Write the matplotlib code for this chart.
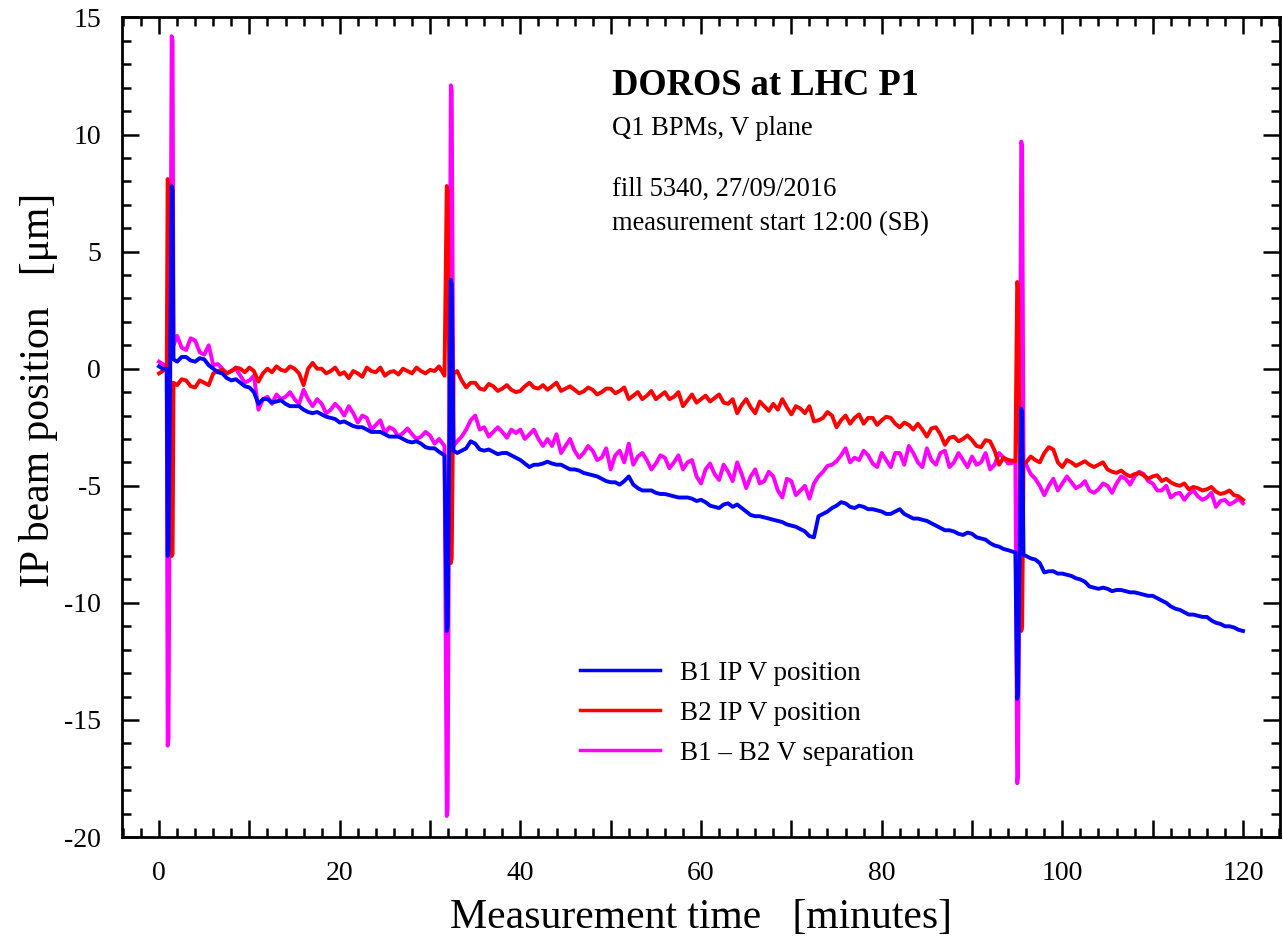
import matplotlib
matplotlib.use('Agg')
import matplotlib.pyplot as plt
from matplotlib.ticker import MultipleLocator, FuncFormatter

# 时间轴 [分钟]，尖峰附近取点更密
time_min = [
    0.0, 0.4, 0.85, 0.95, 1.05, 1.4, 1.5, 1.6,
    2, 3, 4, 5, 6, 7, 8, 9, 10, 11,
    12, 13, 14, 15, 16, 17, 18, 19, 20, 21,
    22, 23, 24, 25, 26, 27, 28, 29, 30, 31,
    31.6, 31.85, 31.95, 32.3, 32.4, 32.6,
    33, 34, 35, 36, 37, 38, 39, 40, 41, 42,
    43, 44, 45, 46, 47, 48, 49, 50, 51, 52,
    53, 54, 55, 56, 57, 58, 59, 60, 61, 62,
    63, 64, 65, 66, 67, 68, 69, 70, 71, 72,
    73, 74, 75, 76, 77, 78, 79, 80, 81, 82,
    83, 84, 85, 86, 87, 88, 89, 90, 91, 92,
    93, 94,
    94.8, 95.0, 95.1, 95.45, 95.55, 95.7,
    96, 97, 98, 99, 100, 101, 102, 103, 104, 105,
    106, 107, 108, 109, 110, 111, 112, 113, 114, 115,
    116, 117, 118, 119, 120,
]

b1_pos = [
    0.1, 0.0, 0.0, -8.0, -7.9, 7.8, 7.6, 0.4,
    0.3, 0.5, 0.3, 0.4, 0.0, -0.2, -0.5, -0.6, -0.8, -1.5,
    -1.3, -1.4, -1.5, -1.6, -1.75, -1.9, -1.95, -2.1, -2.3, -2.35,
    -2.5, -2.6, -2.7, -2.8, -2.9, -3.0, -3.15, -3.2, -3.4, -3.55,
    -3.7, -11.2, -11.0, 3.8, 3.6, -3.5,
    -3.6, -3.4, -3.2, -3.5, -3.55, -3.6, -3.7, -3.9, -4.2, -4.1,
    -3.97, -4.1, -4.2, -4.3, -4.45, -4.55, -4.7, -4.85, -4.95, -4.6,
    -5.1, -5.2, -5.3, -5.35, -5.45, -5.5, -5.55, -5.6, -5.85, -5.95,
    -5.75, -5.8, -6.1, -6.3, -6.35, -6.45, -6.55, -6.7, -6.85, -7.15,
    -6.3, -6.1, -5.85, -5.75, -5.95, -5.9, -6.0, -6.1, -6.2, -6.0,
    -6.3, -6.4, -6.5, -6.7, -6.9, -6.95, -7.1, -7.05, -7.25, -7.45,
    -7.6, -7.75,
    -7.85, -14.1, -13.9, -1.7, -1.9, -7.95,
    -8.0, -8.15, -8.7, -8.65, -8.75, -8.85, -9.0, -9.3, -9.4, -9.4,
    -9.45, -9.5, -9.55, -9.65, -9.7, -9.9, -10.15, -10.3, -10.5, -10.55,
    -10.6, -10.85, -11.0, -11.05, -11.2,
]

b2_pos = [
    -0.2, -0.1, 0.0, 8.1, 7.9, -8.0, -7.9, -0.6,
    -0.7, -0.5, -0.8, -0.6, -0.2, -0.05, -0.1, 0.0, 0.05, -0.55,
    0.0, 0.1, -0.1, 0.0, -0.7, 0.25, 0.0, -0.1, -0.25, -0.4,
    -0.2, 0.05, -0.15, -0.3, -0.1, 0.0, -0.2, -0.1, -0.05, 0.1,
    -0.3, 7.8, 7.6, -8.3, -8.1, -0.2,
    -0.1, -0.8, -0.6, -0.9, -0.75, -0.85, -0.9, -0.95, -0.6, -0.85,
    -0.9, -0.6, -0.85, -0.9, -0.97, -0.9, -1.0, -0.85, -0.95, -1.3,
    -1.0, -1.15, -1.3, -1.0, -1.2, -1.6, -1.1, -1.3, -1.4, -1.1,
    -1.5, -1.9, -1.3, -1.9, -1.6, -1.5, -1.3, -1.95, -1.7, -1.6,
    -2.2, -1.85, -2.5, -2.0, -2.1, -2.35, -2.1, -2.2, -2.1, -2.5,
    -2.4, -2.35, -2.9, -2.5, -3.25, -2.9, -3.0, -3.05, -3.35, -3.1,
    -4.1, -3.9,
    -3.95, 3.7, 3.5, -11.2, -11.0, -4.0,
    -4.0, -3.9, -3.6, -3.45, -4.2, -4.0, -4.05, -4.1, -4.1, -4.3,
    -4.45, -4.5, -4.5, -4.55, -4.6, -4.8, -4.85, -5.0, -5.15, -5.1,
    -5.15, -5.25, -5.3, -5.4, -5.6,
]

b1_b2_sep = [
    0.3, 0.2, 0.1, -16.1, -15.8, 14.2, 14.0, 1.0,
    1.4, 0.8, 1.2, 0.6, 0.15, 0.0, -0.1, -0.3, -0.5, -1.75,
    -1.2, -1.1, -1.2, -1.3, -0.9, -1.6, -1.5, -1.75, -1.7, -1.6,
    -2.3, -2.1, -2.4, -2.75, -2.6, -2.75, -2.8, -2.9, -2.85, -3.0,
    -3.3, -19.1, -18.8, 12.1, 11.9, -3.3,
    -3.1, -2.6, -2.0, -2.5, -2.7, -2.7, -2.6, -2.6, -2.8, -3.0,
    -3.0, -2.8, -3.3, -3.5, -3.6, -3.5, -3.8, -4.3, -3.5, -3.2,
    -3.75, -3.9, -4.05, -3.8, -4.0, -4.3, -3.9, -4.9, -4.05, -4.75,
    -4.4, -4.0, -5.1, -4.3, -4.8, -4.6, -5.5, -4.8, -5.2, -5.55,
    -4.6, -4.15, -3.95, -3.4, -3.8, -3.5, -4.05, -3.6, -4.2, -3.6,
    -3.3, -4.0, -3.4, -4.1, -3.5, -4.0, -3.9, -3.75, -4.0, -4.3,
    -3.6, -4.05,
    -4.0, -17.7, -17.4, 9.7, 9.5, -4.1,
    -4.1, -4.7, -5.4, -4.7, -4.9, -4.85, -5.0, -5.2, -5.15, -5.0,
    -4.9, -4.7, -4.6, -4.5, -4.9, -5.2, -5.5, -5.3, -5.35, -5.45,
    -5.5, -5.9, -5.6, -5.7, -5.75,
]

# 半分钟处的读数（噪声）
time_mid = [
    2.5, 3.5, 4.5, 5.5, 6.5, 7.5, 8.5, 9.5, 10.5, 11.5,
    12.5, 13.5, 14.5, 15.5, 16.5, 17.5, 18.5, 19.5, 20.5, 21.5,
    22.5, 23.5, 24.5, 25.5, 26.5, 27.5, 28.5, 29.5, 30.5,
    33.5, 34.5, 35.5, 36.5, 37.5, 38.5, 39.5, 40.5, 41.5, 42.5,
    43.5, 44.5, 45.5, 46.5, 47.5, 48.5, 49.5, 50.5, 51.5, 52.5,
    53.5, 54.5, 55.5, 56.5, 57.5, 58.5, 59.5, 60.5, 61.5, 62.5,
    63.5, 64.5, 65.5, 66.5, 67.5, 68.5, 69.5, 70.5, 71.5, 72.5,
    73.5, 74.5, 75.5, 76.5, 77.5, 78.5, 79.5, 80.5, 81.5, 82.5,
    83.5, 84.5, 85.5, 86.5, 87.5, 88.5, 89.5, 90.5, 91.5, 92.5, 93.5,
    96.5, 97.5, 98.5, 99.5, 100.5, 101.5, 102.5, 103.5, 104.5, 105.5,
    106.5, 107.5, 108.5, 109.5, 110.5, 111.5, 112.5, 113.5, 114.5, 115.5,
    116.5, 117.5, 118.5, 119.5,
]

b1_mid = [
    0.5, 0.35, 0.45, 0.15, -0.15, -0.4, -0.45, -0.75, -1.0, -1.3,
    -1.45, -1.35, -1.6, -1.6, -1.85, -1.85, -2.05, -2.15, -2.25, -2.45,
    -2.5, -2.7, -2.7, -2.9, -2.9, -3.1, -3.1, -3.35, -3.4,
    -3.5, -3.1, -3.45, -3.45, -3.65, -3.6, -3.8, -4.05, -4.1, -4.05,
    -4.05, -4.1, -4.3, -4.35, -4.5, -4.6, -4.8, -4.85, -4.8, -4.95,
    -5.2, -5.2, -5.35, -5.4, -5.5, -5.5, -5.65, -5.7, -5.9, -5.8,
    -5.9, -5.95, -6.25, -6.3, -6.4, -6.5, -6.65, -6.75, -6.95, -7.2,
    -6.2, -5.95, -5.7, -5.9, -5.85, -6.0, -6.05, -6.2, -6.1, -6.2,
    -6.4, -6.45, -6.6, -6.8, -6.9, -7.05, -7.0, -7.2, -7.3, -7.55, -7.7,
    -8.1, -8.3, -8.65, -8.75, -8.8, -8.95, -9.1, -9.35, -9.35, -9.5,
    -9.45, -9.55, -9.6, -9.7, -9.8, -10.0, -10.25, -10.4, -10.5, -10.6,
    -10.75, -10.9, -11.0, -11.15,
]

b2_mid = [
    -0.45, -0.75, -0.5, -0.7, -0.1, -0.2, 0.05, -0.15, -0.1, -0.2,
    -0.15, -0.05, 0.1, -0.2, 0.0, 0.0, -0.2, 0.05, -0.15, -0.1,
    -0.35, -0.1, 0.05, -0.15, -0.25, -0.1, 0.05, -0.2, -0.1,
    -0.5, -0.6, -0.85, -0.65, -0.95, -0.7, -1.0, -0.75, -0.8, -0.7,
    -0.75, -0.95, -0.75, -1.05, -0.8, -1.1, -0.85, -1.05, -0.8, -1.15,
    -1.3, -0.95, -1.15, -1.3, -1.0, -1.35, -1.45, -1.15, -1.25, -1.45,
    -1.3, -1.55, -1.65, -1.4, -1.8, -1.75, -1.65, -1.6, -1.9, -2.25,
    -2.1, -2.0, -2.2, -2.35, -1.95, -2.1, -2.4, -2.05, -2.35, -2.3,
    -2.6, -2.6, -2.55, -2.8, -2.95, -3.1, -2.85, -3.3, -3.05, -3.5, -3.8,
    -3.75, -4.0, -3.35, -4.0, -3.9, -4.15, -3.95, -4.2, -4.0, -4.4,
    -4.35, -4.6, -4.45, -4.7, -4.55, -4.7, -4.95, -4.9, -5.05, -5.2,
    -5.05, -5.35, -5.2, -5.45,
]

sep_mid = [
    0.9, 1.3, 0.7, 1.0, 0.2, -0.2, 0.0, -0.6, -0.3, -1.3,
    -1.5, -1.3, -1.0, -1.5, -1.3, -1.3, -1.9, -1.5, -2.0, -1.9,
    -2.0, -2.6, -2.2, -2.5, -2.9, -2.55, -3.0, -2.7, -3.2,
    -2.9, -2.2, -2.6, -2.9, -2.5, -2.95, -2.75, -3.0, -2.6, -3.3,
    -3.3, -3.6, -3.0, -3.8, -3.3, -3.9, -3.4, -3.7, -4.0, -4.1,
    -3.6, -4.3, -3.7, -4.25, -3.7, -4.0, -4.6, -4.3, -4.5, -4.1,
    -4.8, -4.5, -4.6, -4.9, -4.4, -5.2, -4.7, -5.4, -5.0, -4.9,
    -4.4, -4.1, -3.7, -4.0, -3.9, -3.7, -4.2, -3.9, -3.6, -4.1,
    -3.6, -4.2, -3.9, -3.6, -4.2, -3.6, -4.2, -4.1, -3.6, -4.1, -3.8,
    -4.5, -5.0, -5.0, -5.2, -4.6, -5.1, -4.8, -5.3, -4.9, -5.3,
    -4.6, -4.95, -4.4, -4.8, -5.2, -5.0, -5.35, -5.6, -5.2, -5.6,
    -5.3, -5.65, -5.8, -5.55,
]


def merged(vals, mids):
    pts = sorted(zip(time_min + time_mid, vals + mids))
    return [p[0] for p in pts], [p[1] for p in pts]


plt.rcParams['font.family'] = ['Liberation Serif', 'DejaVu Serif']
plt.rcParams['axes.unicode_minus'] = False

fig = plt.figure(figsize=(12.83, 9.39), dpi=100)
ax = fig.add_axes([0.0951, 0.1086, 0.9026, 0.8728])

# 画线：先画分离量，再画B2，最后B1
tx, ty = merged(b1_b2_sep, sep_mid)
ax.plot(tx, ty, color='#ff00ff', lw=2.8, label='B1 \u2013 B2 V separation', zorder=2)
tx, ty = merged(b2_pos, b2_mid)
ax.plot(tx, ty, color='#ff0000', lw=2.8, label='B2 IP V position', zorder=3)
tx, ty = merged(b1_pos, b1_mid)
ax.plot(tx, ty, color='#0000ff', lw=2.8, label='B1 IP V position', zorder=4)

ax.set_xlim(-4.1, 124.1)
ax.set_ylim(-20, 15)

ax.xaxis.set_major_locator(MultipleLocator(10))
ax.xaxis.set_minor_locator(MultipleLocator(2))
ax.xaxis.set_major_formatter(FuncFormatter(lambda v, p: '%d' % v if round(v) % 20 == 0 else ''))
ax.yaxis.set_major_locator(MultipleLocator(5))
ax.yaxis.set_minor_locator(MultipleLocator(1))
ax.yaxis.set_major_formatter(FuncFormatter(lambda v, p: '%d' % v))

ax.tick_params(which='both', direction='in', top=True, right=True, width=1.8)
ax.tick_params(which='major', length=12)
ax.tick_params(which='minor', length=6.5)
ax.tick_params(axis='x', which='major', labelsize=20, pad=17)
ax.tick_params(axis='y', which='major', labelsize=20, pad=15)
for s in ax.spines.values():
    s.set_linewidth(2.0)

ax.set_xlabel('Measurement time   [minutes]', fontsize=30, labelpad=9)
ax.set_ylabel('IP beam position   [\u03bcm]', fontsize=30)
ax.yaxis.set_label_coords(-0.055, 0.545)

# 文字说明
ax.text(0.423, 0.905, 'DOROS at LHC P1', transform=ax.transAxes, fontsize=26.3, fontweight='bold')
ax.text(0.423, 0.857, 'Q1 BPMs, V plane', transform=ax.transAxes, fontsize=19.1)
ax.text(0.423, 0.782, 'fill 5340, 27/09/2016', transform=ax.transAxes, fontsize=19.1)
ax.text(0.423, 0.740, 'measurement start 12:00 (SB)', transform=ax.transAxes, fontsize=19.1)

# 图例顺序：B1, B2, 分离量
h, l = ax.get_legend_handles_labels()
order = [2, 1, 0]
leg = ax.legend([h[i] for i in order], [l[i] for i in order], loc='center left',
                bbox_to_anchor=(0.3955, 0.151), frameon=False, fontsize=19.5,
                borderpad=0, borderaxespad=0, handlelength=2.96, handletextpad=0.74,
                labelspacing=0.56)
for ln in leg.get_lines():
    ln.set_linewidth(2.5)

fig.savefig('out.png', dpi=100)
